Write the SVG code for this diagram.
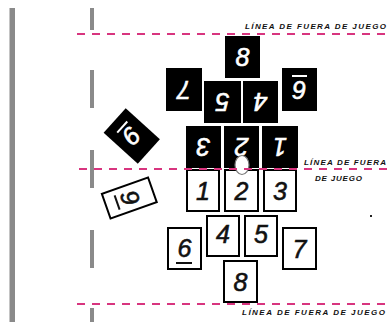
<svg xmlns="http://www.w3.org/2000/svg" width="388" height="322" viewBox="0 0 388 322">
<style>
.bar{fill:#8a8a8a}
.line{stroke:#d8357f;stroke-width:2;stroke-dasharray:8 7;fill:none}
.lbl{font-family:"Liberation Sans",Arial,sans-serif;font-weight:bold;font-style:italic;font-size:8px;fill:#111}
.bk{fill:#000}
.wt{fill:#fff;stroke:#000;stroke-width:2}
.nb{font-family:"Liberation Sans",Arial,sans-serif;font-style:italic;font-size:25px;fill:#fff;stroke:#fff;stroke-width:0.6;text-anchor:middle}
.nw{font-family:"Liberation Sans",Arial,sans-serif;font-style:italic;font-size:25px;fill:#111;stroke:#111;stroke-width:0.6;text-anchor:middle}
</style>
<rect width="388" height="322" fill="#fff"/>
<g id="field">
<rect class="bar" x="9.5" y="8" width="5.5" height="314"/>
<rect class="bar" x="90" y="8" width="4" height="22"/>
<rect class="bar" x="90" y="70" width="4" height="38"/>
<rect class="bar" x="90" y="150" width="4" height="38"/>
<rect class="bar" x="90" y="230" width="4" height="38"/>
<rect class="bar" x="90" y="308" width="4" height="14"/>
<rect x="370" y="215" width="2" height="2" fill="#222"/>
</g>
<g id="black-team">
<g id="b8"><rect class="bk" x="225" y="36" width="35" height="42"/><text class="nb" x="242.5" y="66">8</text></g>
<g id="b7"><rect class="bk" x="166" y="68" width="36" height="43"/><text class="nb" x="184" y="98.5" transform="rotate(180 184 89.5)">7</text></g>
<g id="b5"><rect class="bk" x="204" y="81" width="37" height="42"/><text class="nb" x="222.5" y="111" transform="rotate(180 222.5 102)">5</text></g>
<g id="b4"><rect class="bk" x="243" y="81" width="35" height="42"/><text class="nb" x="260.5" y="111" transform="rotate(180 260.5 102)">4</text></g>
<g id="b9"><rect class="bk" x="282" y="68" width="35" height="43"/><g transform="rotate(180 299.5 89.5)"><text class="nb" x="299.5" y="98.5">6</text><rect x="292" y="102" width="15" height="2" fill="#fff"/></g></g>
<g id="b3"><rect class="bk" x="186" y="126" width="35" height="42"/><text class="nb" x="203.5" y="156" transform="rotate(180 203.5 147)">3</text></g>
<g id="b2"><rect class="bk" x="224" y="126" width="35" height="42"/><text class="nb" x="241.5" y="156" transform="rotate(180 241.5 147)">2</text></g>
<g id="b1"><rect class="bk" x="262" y="126" width="36" height="42"/><text class="nb" x="280" y="156" transform="rotate(180 280 147)">1</text></g>
<g id="b-sub" transform="rotate(132 131.75 136)"><rect class="bk" x="115.25" y="113" width="33" height="46"/><text class="nb" x="131.75" y="145">9</text><rect x="124" y="148" width="15" height="2" fill="#fff"/></g>
</g>
<g id="white-team">
<g id="w1"><rect class="wt" x="187" y="170" width="32" height="41"/><text class="nw" x="203" y="199.5">1</text></g>
<g id="w2"><rect class="wt" x="225" y="170" width="33" height="41"/><text class="nw" x="241.5" y="199.5">2</text></g>
<g id="w3"><rect class="wt" x="264" y="170" width="32" height="41"/><text class="nw" x="280" y="199.5">3</text></g>
<g id="w4"><rect class="wt" x="207" y="216" width="32" height="40"/><text class="nw" x="223" y="243">4</text></g>
<g id="w5"><rect class="wt" x="245" y="216" width="32" height="40"/><text class="nw" x="261" y="243">5</text></g>
<g id="w6"><rect class="wt" x="168" y="228" width="33" height="41"/><text class="nw" x="184.5" y="257">6</text><rect x="176" y="262" width="16" height="2" fill="#111"/></g>
<g id="w7"><rect class="wt" x="283" y="228" width="33" height="41"/><text class="nw" x="299.5" y="257.5">7</text></g>
<g id="w8"><rect class="wt" x="224" y="261" width="33" height="41"/><text class="nw" x="240.5" y="290.5">8</text></g>
<g id="w-sub" transform="rotate(70.5 129.3 198)"><rect class="wt" x="116.3" y="173.5" width="26" height="49"/><text class="nw" x="129.3" y="206">9</text><rect x="122" y="210" width="15" height="2" fill="#111"/></g>
</g>
<ellipse id="ball" cx="242" cy="165" rx="7" ry="9.5" fill="#fff" stroke="#777" stroke-width="1.2"/>
<g id="connectors">
<line class="line" x1="77" y1="34" x2="388" y2="34"/>
<line class="line" x1="79" y1="169" x2="388" y2="169"/>
<line class="line" x1="77" y1="304" x2="388" y2="304"/>
</g>
<g id="labels">
<text class="lbl" x="245" y="29" textLength="141" lengthAdjust="spacing">LÍNEA DE FUERA DE JUEGO</text>
<text class="lbl" x="304" y="165" textLength="82" lengthAdjust="spacing">LÍNEA DE FUERA</text>
<text class="lbl" x="315" y="181" textLength="47" lengthAdjust="spacing">DE JUEGO</text>
<text class="lbl" x="242" y="315" textLength="143" lengthAdjust="spacing">LÍNEA DE FUERA DE JUEGO</text>
</g>
</svg>
